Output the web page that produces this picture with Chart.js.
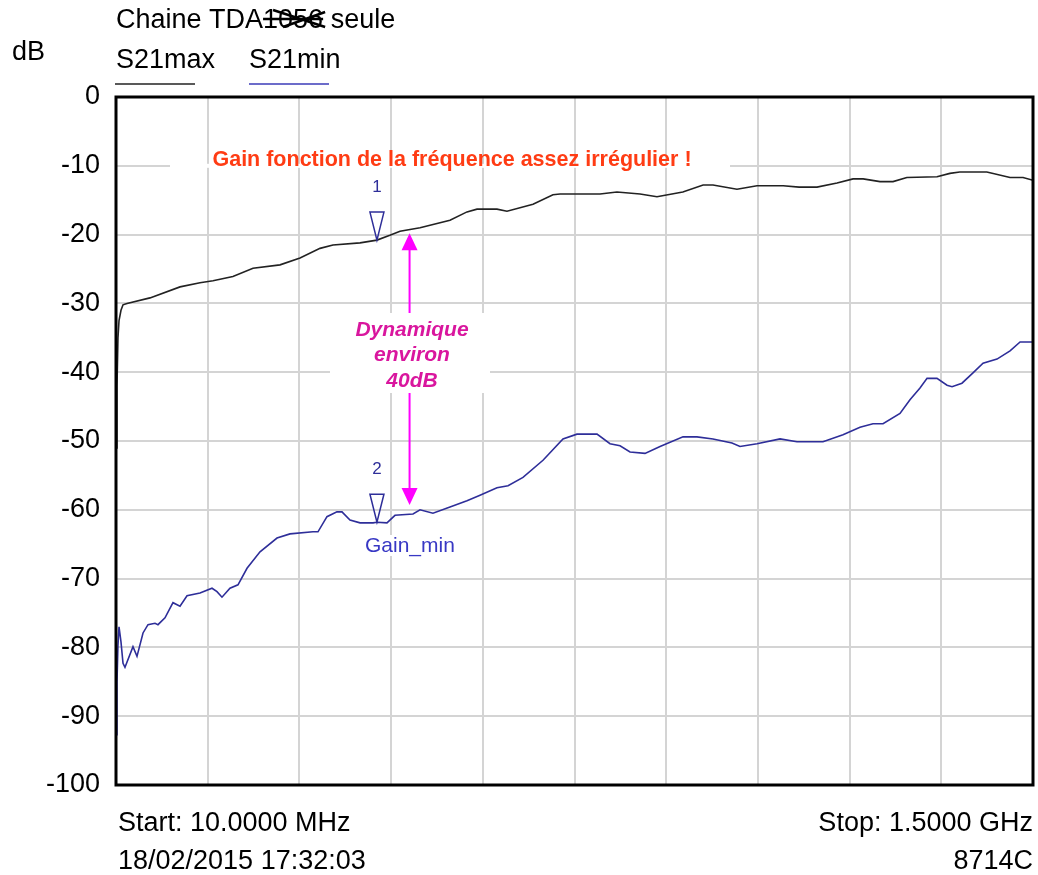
<!DOCTYPE html>
<html>
<head>
<meta charset="utf-8">
<title>Chaine TDA seule</title>
<script src="https://cdn.jsdelivr.net/npm/chart.js@4.4.1/dist/chart.umd.min.js"></script>
<style>
  html, body { margin: 0; padding: 0; background: #fff; }
  #wrap { width: 1038px; height: 875px; }
</style>
</head>
<body>
<div id="wrap"><canvas id="myChart" width="1038" height="875"></canvas></div>
<script>
// frequency in MHz, gain in dB
const maxFreq = [10, 11.6, 13.2, 14.9, 18.1, 21.4, 27.9, 65.2, 114, 146.5, 167.6, 200, 232.6, 276.5, 309, 341.5, 362.6, 406.5, 434, 455, 471.5, 504, 552.7, 580.3, 596.6, 629, 645.3, 687.6, 720, 731.5, 796.5, 824, 861.5, 889, 931, 964, 980, 1019, 1051.6, 1094, 1120, 1149, 1181.6, 1207.6, 1224, 1251.4, 1272.6, 1295, 1344, 1365, 1381, 1425, 1462.7, 1483.8, 1500];
const maxGain = [-51, -42, -35, -32.5, -31, -30.2, -30, -29.2, -27.6, -27.0, -26.7, -26.1, -24.9, -24.4, -23.4, -22.0, -21.5, -21.2, -20.8, -20.1, -19.5, -19.0, -17.9, -16.7, -16.3, -16.3, -16.6, -15.6, -14.2, -14.1, -14.1, -13.8, -14.1, -14.5, -13.8, -12.8, -12.8, -13.4, -12.9, -12.9, -13.1, -13.1, -12.5, -11.9, -11.9, -12.3, -12.3, -11.7, -11.6, -11.1, -10.9, -10.9, -11.7, -11.7, -12.1];

const minFreq = [10, 11.6, 13.2, 14.9, 18.1, 21.4, 24.6, 37.6, 44.1, 53.9, 62, 73.4, 78.2, 89.6, 102.6, 114, 125.4, 146.5, 166, 174.1, 182.2, 195.2, 208.2, 222.9, 244, 271.6, 292.7, 330, 338.2, 352.8, 369, 377.2, 390.2, 406.5, 427.6, 434, 450.3, 463.3, 492.6, 504, 525, 552.7, 580.3, 601.5, 629, 647, 671.3, 703.8, 736.3, 759, 791.6, 812.7, 829, 845.2, 869.6, 894, 931.3, 954, 980, 1010.9, 1023.9, 1051.6, 1089, 1116.5, 1158.8, 1191.3, 1218.9, 1240, 1256.3, 1283.9, 1300.1, 1316.4, 1327.8, 1344, 1360.3, 1368.4, 1384.6, 1402.5, 1418.8, 1441.5, 1462.7, 1479, 1500];
const minGain = [-92.7, -85, -79.7, -77, -79.2, -82.3, -82.9, -79.9, -81.3, -77.9, -76.7, -76.5, -76.7, -75.7, -73.5, -74, -72.5, -72.1, -71.4, -71.9, -72.7, -71.4, -70.9, -68.5, -66.1, -64.1, -63.5, -63.2, -63.2, -61.0, -60.3, -60.3, -61.5, -61.9, -61.9, -61.8, -61.9, -60.8, -60.6, -60.0, -60.5, -59.6, -58.7, -57.9, -56.8, -56.5, -55.3, -52.8, -49.7, -49.0, -49.0, -50.4, -50.7, -51.6, -51.8, -50.8, -49.4, -49.4, -49.7, -50.3, -50.8, -50.4, -49.7, -50.1, -50.1, -49.1, -48.0, -47.5, -47.5, -46.0, -44.0, -42.3, -40.9, -40.9, -41.9, -42.1, -41.6, -40.1, -38.7, -38.1, -36.9, -35.6, -35.6];

// markers 1 and 2 (MHz, dB)
const markerFreq = [434, 434];
const markerGain = [-20.8, -61.8];
const markerLabels = ['1', '2'];

const yMin = -100, yMax = 0, yStep = 10;
const fStart = 10, fStop = 1500, fDivs = 10;

const FONT = '"Liberation Sans", Arial, sans-serif';

const overlay = {
  id: 'overlay',
  beforeDatasetsDraw(chart) {
    const c = chart.ctx;
    const y = chart.scales.y;
    c.save();
    // white boxes behind the notes
    c.fillStyle = '#fff';
    c.fillRect(170, y.getPixelForValue(-10) - 2, 560, 4);
    c.fillRect(330, 313, 160, 80);
    c.fillRect(355, 535, 127, 21);

    c.textBaseline = 'middle';
    c.textAlign = 'center';
    c.fillStyle = '#ff3c14';
    c.font = 'bold 21.5px ' + FONT;
    c.fillText('Gain fonction de la fréquence assez irrégulier !', 452, 160);

    c.fillStyle = '#d9169e';
    c.font = 'italic bold 21px ' + FONT;
    c.fillText('Dynamique', 412, 330);
    c.fillText('environ', 412, 355);
    c.fillText('40dB', 412, 381);

    c.textAlign = 'left';
    c.fillStyle = '#3838c4';
    c.font = '21px ' + FONT;
    c.fillText('Gain_min', 365, 546);
    c.restore();
  },
  afterDatasetsDraw(chart) {
    const c = chart.ctx;
    const x = chart.scales.x, y = chart.scales.y;
    c.save();
    // markers
    markerFreq.forEach((f, i) => {
      const px = x.getPixelForValue(f), py = y.getPixelForValue(markerGain[i]);
      c.strokeStyle = '#2e2e99';
      c.lineWidth = 1.5;
      c.beginPath();
      c.moveTo(px - 7, py - 28);
      c.lineTo(px + 7, py - 28);
      c.lineTo(px, py);
      c.closePath();
      c.stroke();
      c.fillStyle = '#2e2e99';
      c.font = '17px ' + FONT;
      c.textAlign = 'center';
      c.textBaseline = 'middle';
      c.fillText(markerLabels[i], px, py - 53);
    });

    // double arrow
    const ax = x.getPixelForValue(487);
    const aTop = y.getPixelForValue(-19.8), aBot = y.getPixelForValue(-59.3);
    c.strokeStyle = '#ff00ff';
    c.fillStyle = '#ff00ff';
    c.lineWidth = 2;
    c.beginPath();
    c.moveTo(ax, aTop + 14); c.lineTo(ax, 313);
    c.moveTo(ax, 393); c.lineTo(ax, aBot - 14);
    c.stroke();
    c.beginPath();
    c.moveTo(ax, aTop); c.lineTo(ax - 8, aTop + 17); c.lineTo(ax + 8, aTop + 17); c.closePath(); c.fill();
    c.beginPath();
    c.moveTo(ax, aBot); c.lineTo(ax - 8, aBot - 17); c.lineTo(ax + 8, aBot - 17); c.closePath(); c.fill();
    c.restore();
  },
  afterDraw(chart) {
    const c = chart.ctx;
    const a = chart.chartArea;
    c.save();
    // frame
    c.strokeStyle = '#000';
    c.lineWidth = 3;
    c.strokeRect(a.left, a.top, a.right - a.left, a.bottom - a.top);

    // header
    c.fillStyle = '#000';
    c.font = '27px ' + FONT;
    c.textAlign = 'left';
    c.textBaseline = 'alphabetic';
    const t1 = 'Chaine TDA';
    c.fillText(t1, 116, 28);
    const w1 = c.measureText(t1).width;
    c.fillText('1056', 116 + w1, 28);
    const w2 = c.measureText('1056').width;
    c.fillText(' seule', 116 + w1 + w2, 28);
    // scribble over "1056"
    c.lineWidth = 2.5;
    c.beginPath();
    c.moveTo(116 + w1, 19); c.lineTo(116 + w1 + w2, 19);
    c.moveTo(116 + w1 + 10, 10); c.lineTo(116 + w1 + w2 + 2, 27);
    c.moveTo(116 + w1 + 20, 27); c.lineTo(116 + w1 + w2 + 2, 12);
    c.stroke();

    c.fillText('dB', 12, 60);
    c.fillText('S21max', 116, 68);
    c.fillText('S21min', 249, 68);
    c.lineWidth = 1.5;
    c.strokeStyle = '#222';
    c.beginPath(); c.moveTo(115, 84); c.lineTo(195, 84); c.stroke();
    c.strokeStyle = '#3b3bb8';
    c.beginPath(); c.moveTo(249, 84); c.lineTo(329, 84); c.stroke();

    // footer
    c.fillStyle = '#000';
    c.fillText('Start: 10.0000 MHz', 118, 831);
    c.fillText('18/02/2015 17:32:03', 118, 869);
    c.textAlign = 'right';
    c.fillText('Stop: 1.5000 GHz', 1033, 831);
    c.fillText('8714C', 1033, 869);
    c.restore();
  }
};

const ctx = document.getElementById('myChart');

new Chart(ctx, {
  type: 'line',
  data: {
    datasets: [{
      label: 'S21max',
      data: maxFreq.map((f, i) => ({ x: f, y: maxGain[i] })),
      borderColor: '#222',
      borderWidth: 1.6,
      pointRadius: 0,
      tension: 0
    }, {
      label: 'S21min',
      data: minFreq.map((f, i) => ({ x: f, y: minGain[i] })),
      borderColor: '#2e2e99',
      borderWidth: 1.6,
      pointRadius: 0,
      tension: 0
    }]
  },
  options: {
    responsive: false,
    animation: false,
    events: [],
    layout: { padding: { left: 0, top: 97, right: 5, bottom: 90 } },
    plugins: { legend: { display: false }, tooltip: { enabled: false } },
    scales: {
      x: {
        type: 'linear',
        min: fStart,
        max: fStop,
        afterBuildTicks: (s) => {
          const step = (fStop - fStart) / fDivs;
          s.ticks = Array.from({ length: fDivs + 1 }, (_, i) => ({ value: fStart + i * step }));
        },
        afterFit: (s) => { s.height = 0; },
        ticks: { display: false },
        grid: { color: '#d4d4d4', lineWidth: 2, drawTicks: false },
        border: { display: false }
      },
      y: {
        min: yMin,
        max: yMax,
        afterFit: (s) => { s.width = 116; },
        ticks: {
          stepSize: yStep,
          padding: 16,
          color: '#000',
          font: { family: FONT, size: 27 }
        },
        grid: { color: '#d4d4d4', lineWidth: 2, drawTicks: false },
        border: { display: false }
      }
    }
  },
  plugins: [overlay]
});
</script>
</body>
</html>
